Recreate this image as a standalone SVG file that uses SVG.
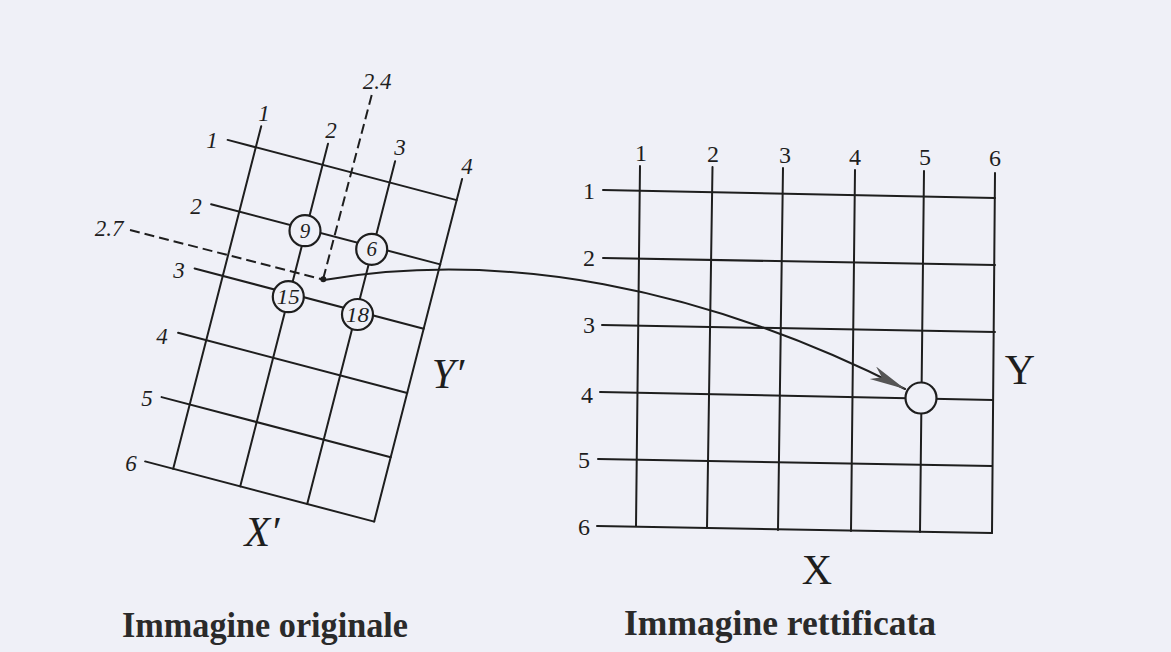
<svg xmlns="http://www.w3.org/2000/svg" width="1171" height="652" viewBox="0 0 1171 652">
<defs>
<style>
.bg{fill:#eff0f7}
.ln{stroke:#1e1e1e;stroke-width:2;fill:none;stroke-linecap:round}
.dash{stroke:#1e1e1e;stroke-width:2;fill:none;stroke-dasharray:10 5}
.circ{fill:#eff0f7;stroke:#1e1e1e;stroke-width:2.2}
.it{font-family:"Liberation Serif",serif;font-style:italic;font-size:23px;fill:#1e1e1e;text-anchor:middle;dominant-baseline:central}
.up{font-family:"Liberation Serif",serif;font-size:24px;fill:#1e1e1e;text-anchor:middle;dominant-baseline:central}
.cn{font-family:"Liberation Serif",serif;font-style:italic;font-size:21px;fill:#1e1e1e;text-anchor:middle;dominant-baseline:central}
.big{font-family:"Liberation Serif",serif;font-size:42px;fill:#1e1e1e;text-anchor:middle;dominant-baseline:central}
.title{font-family:"Liberation Serif",serif;font-weight:bold;font-size:35px;fill:#2a2a2a}
</style>
<marker id="arr" markerUnits="userSpaceOnUse" markerWidth="40" markerHeight="16" refX="36" refY="7" orient="auto">
<path d="M0,0 L36,7 L0,14 L10,7 Z" fill="#555"/>
</marker>
</defs>
<rect class="bg" x="0" y="0" width="1171" height="652"/>

<g id="left-grid">
<line class="ln" x1="261.2" y1="126.3" x2="173.2" y2="468.8"/>
<line class="ln" x1="328" y1="143.8" x2="240.2" y2="486.4"/>
<line class="ln" x1="395.1" y1="161.3" x2="307.2" y2="504"/>
<line class="ln" x1="462.1" y1="178.9" x2="374.2" y2="521.6"/>
<line class="ln" x1="227.6" y1="139.9" x2="456.7" y2="200.1"/>
<line class="ln" x1="211.1" y1="204.2" x2="440.2" y2="264.4"/>
<line class="ln" x1="194.6" y1="268.5" x2="423.7" y2="328.7"/>
<line class="ln" x1="178.1" y1="332.8" x2="407.2" y2="393"/>
<line class="ln" x1="161.6" y1="397.1" x2="390.7" y2="457.3"/>
<line class="ln" x1="145.1" y1="461.4" x2="374.2" y2="521.6"/>
<line class="dash" x1="130" y1="230" x2="323" y2="279.5"/>
<line class="dash" x1="371.7" y1="95" x2="323" y2="279.5"/>
<circle cx="323.3" cy="279.3" r="3" fill="#1e1e1e"/>
<text class="it" x="264" y="113">1</text>
<text class="it" x="331" y="130">2</text>
<text class="it" x="400" y="147">3</text>
<text class="it" x="467" y="166">4</text>
<text class="it" x="212" y="140">1</text>
<text class="it" x="196" y="206">2</text>
<text class="it" x="179" y="270">3</text>
<text class="it" x="162" y="336">4</text>
<text class="it" x="147" y="398">5</text>
<text class="it" x="131" y="463">6</text>
<text class="it" x="109" y="228">2.7</text>
<text class="it" x="377" y="81">2.4</text>
<text class="big" x="262" y="532" font-style="italic">X′</text>
<text class="big" x="448" y="374" font-style="italic">Y′</text>
</g>

<g id="node-9"><circle class="circ" cx="305" cy="230.7" r="15.5"/><text class="cn" x="305" y="230.7">9</text></g>
<g id="node-6"><circle class="circ" cx="371.7" cy="249.3" r="15.5"/><text class="cn" x="371.7" y="249.3">6</text></g>
<g id="node-15"><circle class="circ" cx="288.3" cy="296.7" r="15.5"/><text class="cn" x="288.3" y="296.7" font-size="19" textLength="23" lengthAdjust="spacingAndGlyphs">15</text></g>
<g id="node-18"><circle class="circ" cx="357.5" cy="314.5" r="15.5"/><text class="cn" x="357.5" y="314.5" font-size="19" textLength="23" lengthAdjust="spacingAndGlyphs">18</text></g>

<g id="right-grid">
<line class="ln" x1="640" y1="166" x2="636" y2="526"/>
<line class="ln" x1="712.5" y1="167" x2="707" y2="528"/>
<line class="ln" x1="783" y1="168" x2="778" y2="530"/>
<line class="ln" x1="855" y1="170" x2="851" y2="531"/>
<line class="ln" x1="924" y1="171" x2="920" y2="532"/>
<line class="ln" x1="995" y1="173" x2="992" y2="533"/>
<line class="ln" x1="603" y1="190" x2="995" y2="198"/>
<line class="ln" x1="603" y1="258" x2="995" y2="265"/>
<line class="ln" x1="602" y1="325" x2="995" y2="332"/>
<line class="ln" x1="600" y1="392" x2="993" y2="400"/>
<line class="ln" x1="598" y1="459" x2="992" y2="466"/>
<line class="ln" x1="597" y1="526" x2="992" y2="533"/>
<text class="up" x="641" y="153">1</text>
<text class="up" x="713" y="154">2</text>
<text class="up" x="785" y="155">3</text>
<text class="up" x="855" y="157">4</text>
<text class="up" x="925" y="157">5</text>
<text class="up" x="995" y="158">6</text>
<text class="up" x="589" y="191">1</text>
<text class="up" x="589" y="258">2</text>
<text class="up" x="589" y="325">3</text>
<text class="up" x="587" y="395">4</text>
<text class="up" x="584" y="460">5</text>
<text class="up" x="584" y="527">6</text>
<text class="big" x="817" y="570">X</text>
<text class="big" x="1020" y="370">Y</text>
</g>

<g id="node-target"><circle class="circ" cx="921" cy="398" r="15.5"/></g>

<g id="connectors">
<path class="ln" d="M324,280 C500,250 700,285 905,389" marker-end="url(#arr)"/>
</g>

<g id="titles">
<text class="title" x="122" y="637" textLength="286" lengthAdjust="spacingAndGlyphs">Immagine originale</text>
<text class="title" x="624" y="635" textLength="312" lengthAdjust="spacingAndGlyphs">Immagine rettificata</text>
</g>
</svg>
